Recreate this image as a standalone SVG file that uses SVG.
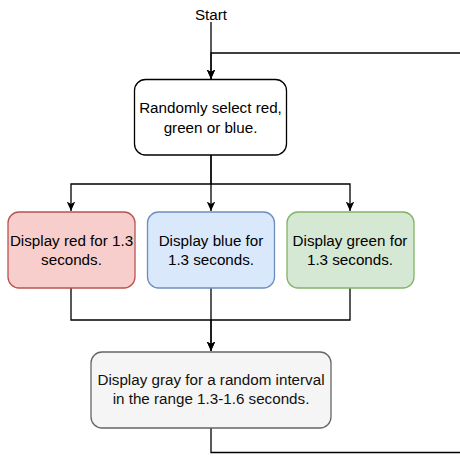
<svg xmlns="http://www.w3.org/2000/svg" width="460" height="456" viewBox="0 0 460 456">
  <style>
    .box { stroke-width: 1.3; }
    .plain { fill: #ffffff; stroke: #000000; }
    .red { fill: #f8cecc; stroke: #b85450; }
    .blue { fill: #dae8fc; stroke: #6c8ebf; }
    .green { fill: #d5e8d4; stroke: #82b366; }
    .gray { fill: #f5f5f5; stroke: #666666; }
    text { font-family: "Liberation Sans", Arial, Helvetica, sans-serif; font-size: 15.2px; fill: #000000; text-anchor: middle; }
    .muted { fill: #111111; }
    .edge { fill: none; stroke: #000000; stroke-width: 1.3; }
  </style>
  <defs>
    <marker id="arrow" viewBox="0 0 10 10" refX="10" refY="5" markerWidth="9.5" markerHeight="9.5" markerUnits="userSpaceOnUse" orient="auto">
      <path d="M0,0.5 L10,5 L0,9.5 L2.5,5 z" fill="#000000"/>
    </marker>
  </defs>

  <rect width="460" height="456" fill="#ffffff"/>

  <!-- connectors -->
  <g id="connectors" class="edge">
    <path d="M211,22 V79" marker-end="url(#arrow)"/>
    <path d="M211,428 V452.5 H480 V53 H211 V79" marker-end="url(#arrow)"/>
    <path d="M211,155 V184 H71 V211" marker-end="url(#arrow)"/>
    <path d="M211,155 V211" marker-end="url(#arrow)"/>
    <path d="M211,184 H350 V211" marker-end="url(#arrow)"/>
    <path d="M71,288 V320 H211 V351" marker-end="url(#arrow)"/>
    <path d="M211,288 V351" marker-end="url(#arrow)"/>
    <path d="M350,288 V320 H211"/>
  </g>

  <!-- start label -->
  <g id="start">
    <text x="211" y="19.5">Start</text>
  </g>

  <!-- choice step -->
  <g id="select">
    <rect class="box plain" x="134.5" y="79.5" width="152" height="75.5" rx="11"/>
    <text x="210.5" y="113">Randomly select red,</text>
    <text x="210.5" y="132.5">green or blue.</text>
  </g>

  <!-- colour display steps -->
  <g id="show-red">
    <rect class="box red" x="8" y="212" width="127" height="76" rx="11"/>
    <text x="71.5" y="246">Display red for 1.3</text>
    <text x="71.5" y="265">seconds.</text>
  </g>
  <g id="show-blue">
    <rect class="box blue" x="147.5" y="212" width="127" height="76" rx="11"/>
    <text x="211" y="246">Display blue for</text>
    <text x="211" y="265">1.3 seconds.</text>
  </g>
  <g id="show-green">
    <rect class="box green" x="287" y="212" width="127" height="76" rx="11"/>
    <text x="350" y="246">Display green for</text>
    <text x="350" y="265">1.3 seconds.</text>
  </g>

  <!-- pause step -->
  <g id="show-gray">
    <rect class="box gray" x="91" y="352" width="240" height="76" rx="11"/>
    <text class="muted" x="211" y="385">Display gray for a random interval</text>
    <text class="muted" x="211" y="404">in the range 1.3-1.6 seconds.</text>
  </g>
</svg>
